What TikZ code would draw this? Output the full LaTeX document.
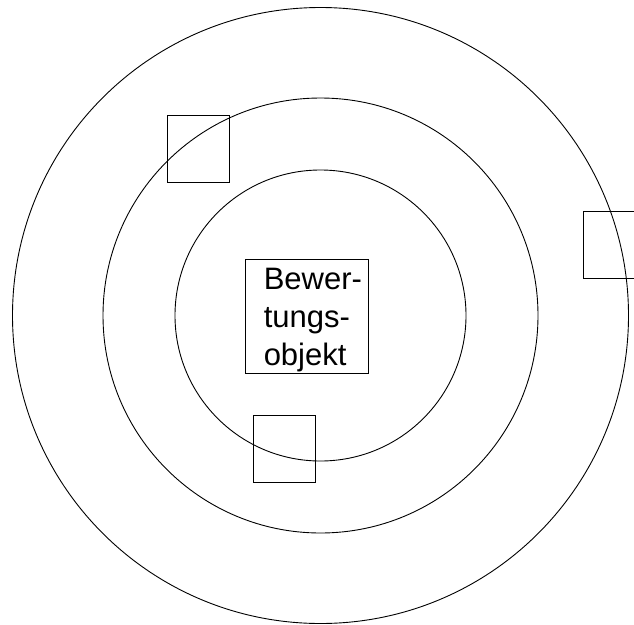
\documentclass[tikz,border=0pt]{standalone}
\usepackage{fontspec}
\setmainfont{Liberation Sans}
\tikzset{
    ring/.style={draw, circle, inner sep=0pt, line width=0.9pt},
    marker/.style={draw, rectangle, inner sep=0pt, line width=0.9pt,
        minimum width=62pt, minimum height=67pt},
    objbox/.style={draw, rectangle, inner sep=0pt, line width=0.9pt,
        minimum width=123pt, minimum height=114pt},
    objtext/.style={inner sep=0pt, align=left,
        font=\fontsize{31}{38}\selectfont}
}
\begin{document}
\begin{tikzpicture}[x=1pt,y=-1pt]
    \useasboundingbox (0,0) rectangle (634,624);
    \coordinate (ctr) at (320.5,315.5);
    % the three rings
    \node[ring, minimum size=616pt] (outer) at (ctr) {};
    \node[ring, minimum size=435pt] (middle) at (ctr) {};
    \node[ring, minimum size=291pt] (inner) at (ctr) {};
    % small squares on the rings
    \node[marker] (markA) at (198,148.5) {};
    \node[marker] (markB) at (614,245) {};
    \node[marker] (markC) at (284.5,448.5) {};
    % object in the centre
    \node[objbox] (object) at (306.5,316) {};
    \node[objtext, anchor=west] (objlabel) at ([xshift=19pt,yshift=-4pt]object.west) {Bewer-\\tungs-\\objekt};
\end{tikzpicture}
\end{document}
